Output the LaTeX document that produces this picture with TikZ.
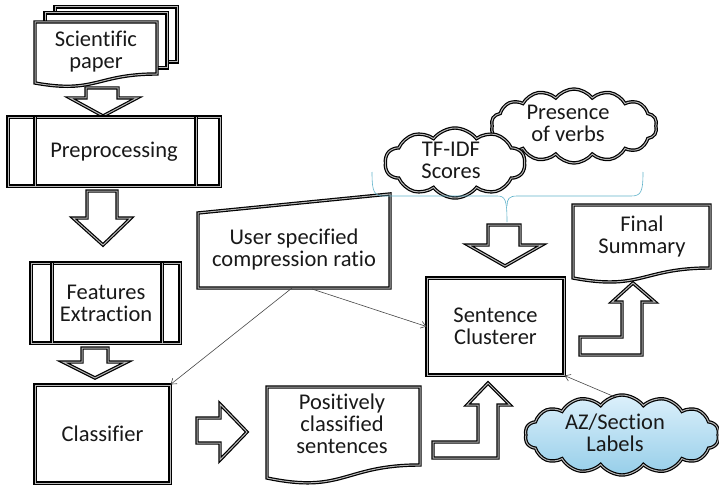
\documentclass[tikz,border=0pt]{standalone}
\usepackage{fontspec}
\setmainfont{Carlito}[Ligatures={NoCommon}]
\usetikzlibrary{shapes.symbols,arrows.meta}
\definecolor{txt}{RGB}{25,25,25}
\definecolor{bracec}{RGB}{95,178,202}
\definecolor{azT}{RGB}{220,240,251}
\definecolor{azB}{RGB}{150,206,233}
\newcommand\lblfont{\fontsize{22.5}{22}\selectfont\lineskiplimit=-10pt\relax}
\begin{document}
\begin{tikzpicture}[x=1pt,y=-1pt,
  dbl/.style={draw=black, line width=1.2pt, double=gray!55, double distance=1pt, fill=white},
  lbl/.style={align=center, font=\lblfont, text=txt, inner sep=0},
  thinarrow/.style={draw=gray!55!black, line width=0.6pt, -{Straight Barb[length=5pt,width=7pt]}},
  cloudy/.style={cloud, cloud puffs=14, cloud puff arc=105, cloud ignores aspect, dbl, inner sep=0},
  boxnode/.style={dbl, rectangle, inner sep=0},
]
\useasboundingbox (0,0) rectangle (719,484);

% ---- Scientific paper (multi-document)
\draw[dbl] (55,7) rectangle (177,62);
\draw[dbl] (45,13) rectangle (167,68);
\draw[dbl] (35,22) -- (157,22) -- (157,74) .. controls (96,74) and (96,94) .. (35,83) -- cycle;
\node[lbl] (paper) at (96,52) {Scientific\\paper};

% arrow paper -> preprocessing
\draw[dbl] (86,88) -- (118,88) -- (118,98) -- (137,98) -- (103,116) -- (70,98) -- (86,98) -- cycle;

% ---- Preprocessing
\draw[dbl] (8,117) rectangle (220,186);
\draw[dbl] (35,117) -- (35,186);
\draw[dbl] (196,117) -- (196,186);
\node[lbl] (pre) at (114,152) {Preprocessing};

% arrow pre -> features
\draw[dbl] (87,191) -- (117,191) -- (117,218) -- (131,218) -- (103,245) -- (73,218) -- (87,218) -- cycle;

% ---- Features Extraction
\draw[dbl] (31,263) rectangle (180,343);
\draw[dbl] (52,263) -- (52,343);
\draw[dbl] (162,263) -- (162,343);
\node[lbl] (feat) at (106,303) {Features\\Extraction};

% arrow features -> classifier
\draw[dbl] (82,348) -- (108,348) -- (108,362) -- (127,362) -- (95,378) -- (63,362) -- (82,362) -- cycle;

% ---- Classifier
\node[boxnode, minimum width=135pt, minimum height=98pt] (cls) at (102.5,434) {};
\node[lbl] at (cls.center) {Classifier};

% arrow classifier -> positively
\draw[dbl] (197,418) -- (220,418) -- (220,404) -- (247,432) -- (220,460) -- (220,443) -- (197,443) -- cycle;

% ---- Positively classified sentences
\draw[dbl] (267,387) -- (420,387) -- (420,465) .. controls (343.5,465) and (343.5,494) .. (267,478) -- cycle;
\node[lbl] (pos) at (342,424) {Positively\\classified\\sentences};

% bent arrow pos -> clusterer
\draw[dbl] (433,442) -- (478,442) -- (478,405) -- (467,405) -- (488,383) -- (510,405) -- (498,405) -- (498,458) -- (433,458) -- cycle;

% ---- User specified compression ratio (manual input)
\draw[dbl] (198,213) -- (390,194) -- (390,288) -- (198,288) -- cycle;
\node[lbl] (user) at (294,249) {User specified\\compression ratio};
\coordinate (userA) at (292,288);
\coordinate (userB) at (312,289);

% ---- Sentence Clusterer
\node[boxnode, minimum width=137pt, minimum height=97pt] (clu) at (495.5,326.5) {};
\node[lbl] at (clu.center) {Sentence\\Clusterer};

% arrow down into clusterer
\draw[dbl] (488,225) -- (520,225) -- (520,245) -- (542,245) -- (505,266) -- (468,245) -- (488,245) -- cycle;

% ---- Final Summary
\draw[dbl] (573,205) -- (710,205) -- (710,268) .. controls (641.5,268) and (641.5,291) .. (573,278) -- cycle;
\node[lbl] (fin) at (642,236) {Final\\Summary};

% bent arrow clusterer -> final
\draw[dbl] (580,337) -- (622,337) -- (622,302) -- (612,302) -- (633,283) -- (655,302) -- (642,302) -- (642,355) -- (580,355) -- cycle;

% ---- Clouds
\node[cloudy, minimum width=166pt, minimum height=74pt] (pres) at (574,126) {};
\node[cloudy, cloud puffs=10, minimum width=140pt, minimum height=70pt] (tfidf) at (455,163) {};
\node[cloudy, minimum width=194pt, minimum height=80pt, top color=azT, bottom color=azB] (az) at (622,435) {};
\node[lbl] at (568,123) {Presence\\of verbs};
\node[lbl] at (451,160) {TF-IDF\\Scores};
\node[lbl] at (615,433) {AZ/Section\\Labels};
\coordinate (azTop) at (615,397);

% ---- Brace
\draw[bracec, line width=0.6pt]
  (372,172) .. controls (372,192) and (374,196) .. (384,196) -- (497,196)
  .. controls (505,196) and (507,199) .. (507,222);
\draw[bracec, line width=0.6pt]
  (643,172) .. controls (643,192) and (641,196) .. (631,196) -- (517,196)
  .. controls (509,196) and (507,199) .. (507,206);

% ---- Thin connectors
\draw[thinarrow] (userA) -- (cls.north east);
\draw[thinarrow] (userB) -- (clu.west);
\draw[thinarrow] (azTop) -- (clu.south east);

\end{tikzpicture}
\end{document}
